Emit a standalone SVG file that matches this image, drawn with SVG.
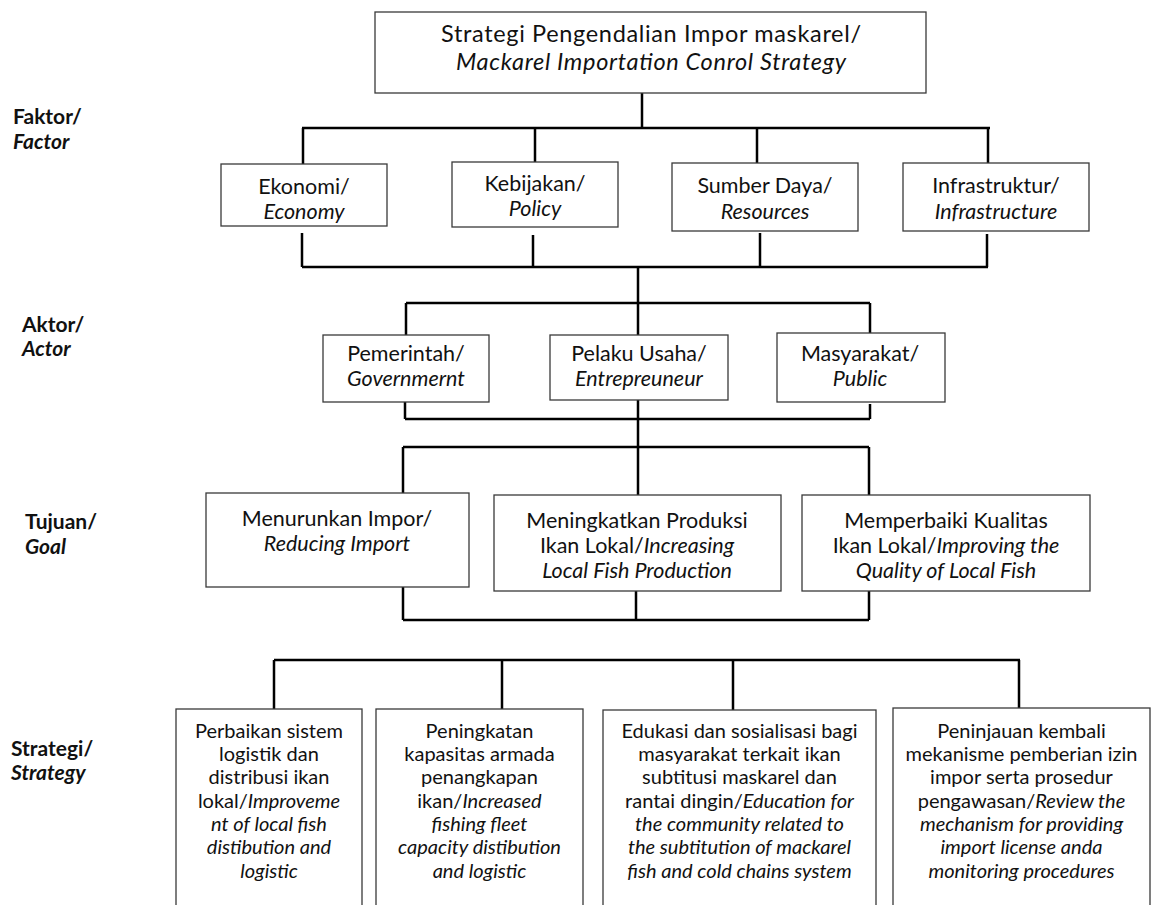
<svg xmlns="http://www.w3.org/2000/svg" width="1157" height="905" viewBox="0 0 1157 905">
<style>
.box{fill:#fff;stroke:#3a3a3a;stroke-width:1.3}
.con{fill:none;stroke:#000;stroke-width:2.5}
text{font-family:Lato,"Open Sans","Liberation Sans",sans-serif;fill:#111}
.t{font-size:21.5px;text-anchor:middle}
.s{font-size:20px;text-anchor:middle}
.title{font-size:23.5px;text-anchor:middle}
.lab{font-size:21px;font-weight:bold}
.i{font-style:italic}
</style>
<rect width="1157" height="905" fill="#fff"/>
<g id="connectors">
<path class="con" d="M642 93V128M302 128H990M303 128V164M535 128V162M757 128V163M988 128V163"/>
<path class="con" d="M302 233V267M533 235V267M760 233V267M987 234V267M302 267H988M638 267V335"/>
<path class="con" d="M406 303H870M406 303V335M870 303V333"/>
<path class="con" d="M405 402V419M870 404V419M405 419H870M638 400V495"/>
<path class="con" d="M403 447H869M403 447V493M869 447V495"/>
<path class="con" d="M403 587V620M636 591V620M869 591V620M403 620H869"/>
<path class="con" d="M274 660H1020M274 660V709M502 660V709M733 660V710M1019 660V708"/>
</g>
<g id="labels">
<text class="lab" x="13" y="124">Faktor/</text>
<text class="lab i" x="13" y="149">Factor</text>
<text class="lab" x="22" y="332">Aktor/</text>
<text class="lab i" x="22" y="356">Actor</text>
<text class="lab" x="25" y="529">Tujuan/</text>
<text class="lab i" x="25" y="554">Goal</text>
<text class="lab" x="11" y="756">Strategi/</text>
<text class="lab i" x="11" y="780">Strategy</text>
</g>
<g id="root">
<rect class="box" x="375" y="12" width="551" height="81"/>
<text class="title" x="651" y="42" textLength="420" lengthAdjust="spacing">Strategi Pengendalian Impor maskarel/</text>
<text class="title i" x="651" y="70" textLength="390" lengthAdjust="spacing">Mackarel Importation Conrol Strategy</text>
</g>
<g id="f-ekonomi">
<rect class="box" x="221" y="164" width="166" height="62"/>
<text class="t" x="304" y="194">Ekonomi/</text>
<text class="t i" x="304" y="219">Economy</text>
</g>
<g id="f-kebijakan">
<rect class="box" x="452" y="162" width="166" height="65"/>
<text class="t" x="535" y="191">Kebijakan/</text>
<text class="t i" x="535" y="216">Policy</text>
</g>
<g id="f-sumber">
<rect class="box" x="672" y="163" width="186" height="68"/>
<text class="t" x="765" y="193">Sumber Daya/</text>
<text class="t i" x="765" y="219">Resources</text>
</g>
<g id="f-infra">
<rect class="box" x="903" y="163" width="186" height="68"/>
<text class="t" x="996" y="193">Infrastruktur/</text>
<text class="t i" x="996" y="219">Infrastructure</text>
</g>
<g id="a-pemerintah">
<rect class="box" x="323" y="335" width="166" height="67"/>
<text class="t" x="406" y="361">Pemerintah/</text>
<text class="t i" x="406" y="386">Governmernt</text>
</g>
<g id="a-pelaku">
<rect class="box" x="550" y="335" width="178" height="65"/>
<text class="t" x="639" y="361">Pelaku Usaha/</text>
<text class="t i" x="639" y="386">Entrepreuneur</text>
</g>
<g id="a-masyarakat">
<rect class="box" x="777" y="333" width="168" height="69"/>
<text class="t" x="860" y="361">Masyarakat/</text>
<text class="t i" x="860" y="386">Public</text>
</g>
<g id="g-menurunkan">
<rect class="box" x="206" y="493" width="263" height="94"/>
<text class="t" x="337" y="526">Menurunkan Impor/</text>
<text class="t i" x="337" y="551">Reducing Import</text>
</g>
<g id="g-meningkatkan">
<rect class="box" x="494" y="495" width="287" height="96"/>
<text class="t" x="637" y="528">Meningkatkan Produksi</text>
<text class="t" x="637" y="553">Ikan Lokal/<tspan class="i">Increasing</tspan></text>
<text class="t i" x="637" y="578">Local Fish Production</text>
</g>
<g id="g-memperbaiki">
<rect class="box" x="802" y="495" width="288" height="96"/>
<text class="t" x="946" y="528">Memperbaiki Kualitas</text>
<text class="t" x="946" y="553">Ikan Lokal/<tspan class="i">Improving the</tspan></text>
<text class="t i" x="946" y="578">Quality of Local Fish</text>
</g>
<g id="s-logistik">
<rect class="box" x="176" y="709" width="186" height="220"/>
<text class="s" x="269" y="738">Perbaikan sistem</text>
<text class="s" x="269" y="761">logistik dan</text>
<text class="s" x="269" y="784">distribusi ikan</text>
<text class="s" x="269" y="808">lokal/<tspan class="i">Improveme</tspan></text>
<text class="s i" x="269" y="831">nt of local fish</text>
<text class="s i" x="269" y="854">distibution and</text>
<text class="s i" x="269" y="878">logistic</text>
</g>
<g id="s-armada">
<rect class="box" x="376" y="709" width="207" height="220"/>
<text class="s" x="479.500" y="738">Peningkatan</text>
<text class="s" x="479.500" y="761">kapasitas armada</text>
<text class="s" x="479.500" y="784">penangkapan</text>
<text class="s" x="479.500" y="808">ikan/<tspan class="i">Increased</tspan></text>
<text class="s i" x="479.500" y="831">fishing fleet</text>
<text class="s i" x="479.500" y="854">capacity distibution</text>
<text class="s i" x="479.500" y="878">and logistic</text>
</g>
<g id="s-edukasi">
<rect class="box" x="603" y="710" width="273" height="220"/>
<text class="s" x="739.500" y="738">Edukasi dan sosialisasi bagi</text>
<text class="s" x="739.500" y="761">masyarakat terkait ikan</text>
<text class="s" x="739.500" y="784">subtitusi maskarel dan</text>
<text class="s" x="739.500" y="808">rantai dingin/<tspan class="i">Education for</tspan></text>
<text class="s i" x="739.500" y="831">the community related to</text>
<text class="s i" x="739.500" y="854">the subtitution of mackarel</text>
<text class="s i" x="739.500" y="878">fish and cold chains system</text>
</g>
<g id="s-izin">
<rect class="box" x="893" y="708" width="257" height="220"/>
<text class="s" x="1021.500" y="738">Peninjauan kembali</text>
<text class="s" x="1021.500" y="761">mekanisme pemberian izin</text>
<text class="s" x="1021.500" y="784">impor serta prosedur</text>
<text class="s" x="1021.500" y="808">pengawasan/<tspan class="i">Review the</tspan></text>
<text class="s i" x="1021.500" y="831">mechanism for providing</text>
<text class="s i" x="1021.500" y="854">import license anda</text>
<text class="s i" x="1021.500" y="878">monitoring procedures</text>
</g>
</svg>
